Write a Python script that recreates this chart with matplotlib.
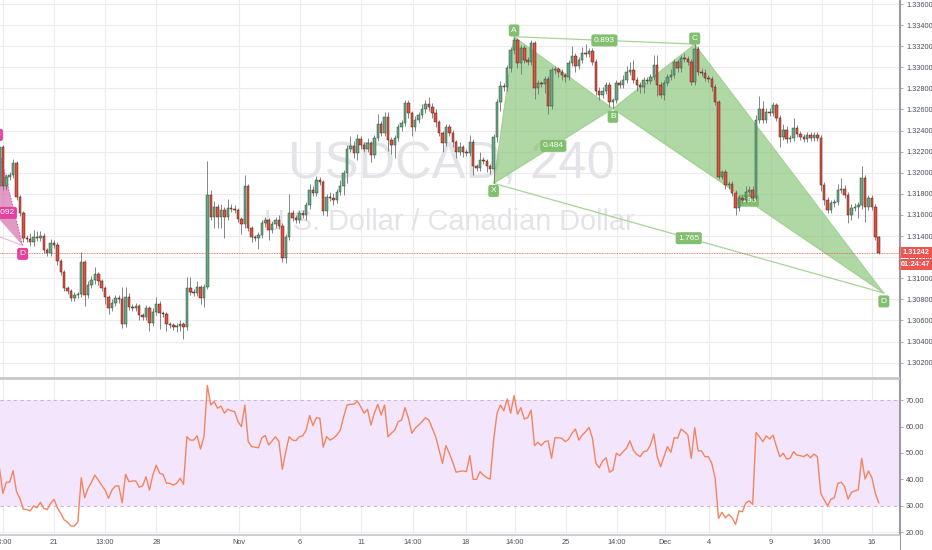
import numpy as np
import matplotlib
matplotlib.use("Agg")
import matplotlib.pyplot as plt
from matplotlib.patches import Polygon, Rectangle
from matplotlib.lines import Line2D
import matplotlib.transforms as mtransforms

plt.rcParams['font.family'] = ['Liberation Sans', 'DejaVu Sans']

# --- 4h candles, USDCAD ---
first_open = 1.3187
close = [
    1.3224, 1.3187, 1.3196, 1.3198, 1.3209, 1.3177, 1.3162, 1.3138, 1.3137, 1.3134,
    1.3139, 1.3138, 1.3140, 1.3127, 1.3124, 1.3133, 1.3132, 1.3116, 1.3106, 1.3091,
    1.3088, 1.3081, 1.3084, 1.3085, 1.3115, 1.3084, 1.3094, 1.3098, 1.3104, 1.3097,
    1.3091, 1.3082, 1.3072, 1.3077, 1.3081, 1.3080, 1.3057, 1.3082, 1.3073, 1.3072,
    1.3074, 1.3065, 1.3063, 1.3072, 1.3058, 1.3068, 1.3076, 1.3067, 1.3066, 1.3057,
    1.3056, 1.3054, 1.3055, 1.3057, 1.3054, 1.3091, 1.3087, 1.3086, 1.3092, 1.3081,
    1.3092, 1.3179, 1.3158, 1.3168, 1.3158, 1.3165, 1.3158, 1.3167, 1.3166, 1.3165,
    1.3156, 1.3151, 1.3187, 1.3148, 1.3139, 1.3138, 1.3141, 1.3152, 1.3155, 1.3146,
    1.3151, 1.3155, 1.3150, 1.3119, 1.3139, 1.3162, 1.3157, 1.3155, 1.3162, 1.3160,
    1.3169, 1.3184, 1.3181, 1.3193, 1.3191, 1.3164, 1.3177, 1.3176, 1.3174, 1.3182,
    1.3187, 1.3200, 1.3223, 1.3225, 1.3219, 1.3232, 1.3226, 1.3223, 1.3228, 1.3217,
    1.3233, 1.3246, 1.3238, 1.3253, 1.3231, 1.3226, 1.3233, 1.3243, 1.3247, 1.3266,
    1.3257, 1.3243, 1.3250, 1.3255, 1.3260, 1.3265, 1.3262, 1.3257, 1.3248, 1.3238,
    1.3228, 1.3243, 1.3238, 1.3229, 1.3220, 1.3224, 1.3220, 1.3219, 1.3229, 1.3206,
    1.3205, 1.3212, 1.3211, 1.3206, 1.3204, 1.3234, 1.3267, 1.3282, 1.3281, 1.3299,
    1.3316, 1.3326, 1.3304, 1.3318, 1.3307, 1.3305, 1.3323, 1.3280, 1.3285, 1.3284,
    1.3289, 1.3263, 1.3297, 1.3298, 1.3296, 1.3293, 1.3291, 1.3304, 1.3311, 1.3301,
    1.3307, 1.3314, 1.3313, 1.3315, 1.3305, 1.3278, 1.3274, 1.3278, 1.3283, 1.3267,
    1.3269, 1.3285, 1.3283, 1.3288, 1.3296, 1.3297, 1.3288, 1.3283, 1.3281, 1.3288,
    1.3287, 1.3291, 1.3302, 1.3283, 1.3274, 1.3285, 1.3291, 1.3293, 1.3305, 1.3299,
    1.3309, 1.3308, 1.3305, 1.3286, 1.3317, 1.3296, 1.3295, 1.3290, 1.3289, 1.3281,
    1.3267, 1.3196, 1.3201, 1.3188, 1.3189, 1.3181, 1.3167, 1.3176, 1.3174, 1.3182,
    1.3184, 1.3176, 1.3250, 1.3260, 1.3250, 1.3258, 1.3257, 1.3264, 1.3252, 1.3234,
    1.3241, 1.3232, 1.3233, 1.3242, 1.3237, 1.3234, 1.3232, 1.3236, 1.3233, 1.3236,
    1.3233, 1.3188, 1.3174, 1.3165, 1.3171, 1.3172, 1.3184, 1.3185, 1.3179, 1.3160,
    1.3167, 1.3168, 1.3169, 1.3195, 1.3168, 1.3176, 1.3168, 1.3139, 1.31242,
]
# wick lengths in pips
wick_up = [
    5, 2, 3, 3, 4, 2, 2, 2, 3, 6,   7, 6, 5, 3, 2, 4, 3, 2, 2, 2,
    2, 2, 3, 2, 10, 2, 3, 4, 7, 2,  2, 2, 2, 3, 3, 3, 12, 10, 4, 3,
    3, 2, 2, 3, 2, 4, 6, 2, 2, 2,   2, 2, 3, 3, 2, 10, 10, 3, 5, 2,
    3, 32, 5, 5, 2, 5, 3, 8, 3, 3,  2, 2, 11, 2, 2, 2, 3, 3, 3, 2,
    3, 3, 5, 2, 3, 18, 3, 3, 3, 3,  3, 5, 3, 4, 3, 2, 3, 5, 5, 3,
    6, 3, 3, 10, 5, 5, 3, 3, 5, 2,  3, 10, 3, 5, 5, 3, 3, 3, 3, 3,
    3, 2, 4, 3, 5, 4, 7, 4, 3, 2,   2, 3, 3, 3, 2, 5, 2, 3, 7, 3,
    2, 8, 3, 2, 2, 3, 3, 5, 3, 3,   3, 3, 2, 3, 3, 3, 3, 2, 3, 2,
    3, 3, 3, 3, 2, 2, 2, 3, 9, 3,   3, 5, 8, 3, 3, 3, 3, 3, 3, 3,
    2, 3, 3, 5, 5, 8, 10, 3, 3, 3,  3, 3, 10, 10, 3, 3, 3, 5, 3, 3,
    3, 5, 3, 3, 5, 3, 3, 3, 3, 3,   3, 2, 2, 3, 3, 3, 3, 3, 3, 5,
    3, 3, 5, 13, 8, 3, 3, 3, 2, 3,  5, 3, 3, 10, 3, 3, 3, 3, 3, 3,
    3, 3, 3, 3, 3, 3, 5, 10, 3, 3,  3, 3, 3, 11, 3, 3, 3, 2, 1,
]
wick_dn = [
    3, 3, 3, 3, 3, 3, 3, 4, 3, 3,   3, 3, 3, 3, 3, 3, 3, 3, 3, 3,
    3, 3, 3, 3, 3, 10, 3, 3, 3, 3,  3, 6, 6, 3, 3, 3, 4, 3, 3, 3,
    3, 5, 3, 3, 8, 3, 3, 15, 3, 7,  3, 3, 5, 5, 12, 3, 3, 3, 3, 5,
    8, 2, 3, 10, 10, 10, 20, 3, 3, 3,  3, 9, 3, 3, 5, 3, 10, 3, 3, 10,
    3, 3, 3, 4, 5, 3, 3, 3, 3, 3,   5, 3, 3, 3, 3, 4, 5, 3, 5, 3,
    3, 8, 10, 3, 5, 7, 3, 3, 3, 7,  3, 3, 3, 3, 10, 8, 12, 3, 3, 3,
    5, 8, 3, 3, 3, 3, 3, 5, 5, 3,   8, 3, 3, 5, 6, 3, 5, 3, 3, 8,
    3, 3, 3, 5, 5, 14, 5, 8, 3, 3,  3, 3, 5, 10, 3, 3, 3, 10, 5, 3,
    8, 7, 3, 3, 5, 5, 5, 3, 3, 5,   3, 3, 3, 3, 3, 4, 5, 3, 3, 5,
    6, 3, 3, 3, 3, 3, 3, 5, 5, 5,   3, 3, 3, 10, 3, 5, 3, 3, 3, 3,
    3, 3, 3, 3, 3, 3, 3, 3, 3, 3,   3, 2, 2, 3, 3, 3, 7, 3, 3, 3,
    3, 3, 2, 3, 3, 3, 3, 3, 3, 10,  3, 4, 3, 3, 3, 3, 3, 3, 3, 3,
    3, 5, 5, 3, 3, 3, 3, 3, 3, 8,   5, 3, 11, 3, 15, 3, 3, 3, 1,
]
rsi = [
    44.2, 34.7, 38.9, 38.9, 43.3, 35.3, 32.8, 28.7, 28.6, 28.0,
    29.9, 29.2, 31.3, 29.0, 28.5, 30.9, 32.4, 29.2, 27.1, 24.6,
    23.7, 22.3, 22.3, 23.9, 40.6, 33.0, 36.6, 38.9, 41.6, 39.7,
    37.8, 35.9, 32.8, 35.9, 37.5, 37.5, 31.1, 41.9, 39.1, 39.4,
    39.4, 37.0, 37.5, 41.0, 35.9, 41.6, 45.4, 42.3, 41.9, 38.5,
    38.5, 37.8, 38.5, 40.4, 38.1, 56.2, 54.9, 54.9, 56.5, 51.5,
    56.2, 75.6, 68.2, 69.5, 67.0, 67.8, 65.1, 66.6, 66.0, 65.7,
    61.9, 60.0, 68.2, 54.3, 52.4, 52.2, 52.0, 55.8, 56.6, 53.0,
    54.6, 56.2, 54.3, 43.8, 50.5, 56.2, 54.9, 54.7, 56.2, 56.5,
    58.7, 64.2, 60.4, 63.4, 63.2, 52.2, 56.2, 54.9, 55.6, 56.8,
    58.7, 63.8, 68.2, 68.5, 68.5, 69.7, 67.6, 65.1, 66.6, 60.6,
    65.1, 68.5, 64.4, 68.2, 56.2, 57.5, 58.7, 61.9, 62.5, 67.2,
    63.2, 57.5, 59.4, 60.6, 61.9, 63.4, 62.5, 59.4, 56.2, 51.1,
    46.1, 52.8, 49.9, 46.5, 42.7, 43.0, 43.2, 42.9, 49.0, 40.0,
    40.0, 42.9, 41.6, 40.6, 40.1, 54.9, 65.1, 68.2, 66.0, 70.5,
    65.1, 71.8, 64.7, 67.2, 62.9, 63.4, 66.3, 52.8, 54.1, 52.8,
    54.3, 54.6, 48.0, 55.8, 55.8, 55.6, 54.3, 55.2, 57.5, 59.1,
    54.9, 56.8, 58.1, 59.7, 55.6, 46.1, 44.4, 47.0, 48.2, 42.7,
    43.5, 49.9, 49.0, 50.5, 51.8, 54.6, 51.1, 49.5, 48.6, 50.5,
    50.8, 53.0, 57.2, 48.6, 44.8, 48.6, 52.4, 50.3, 55.8, 55.6,
    59.1, 58.1, 56.8, 48.0, 59.6, 50.8, 50.8, 48.6, 48.6, 46.1,
    40.4, 25.2, 27.5, 25.4, 26.7, 25.4, 22.9, 28.0, 27.7, 31.1,
    31.8, 30.5, 57.8, 56.2, 54.3, 56.5, 55.3, 56.8, 52.4, 48.6,
    49.9, 47.7, 48.0, 50.5, 49.2, 49.0, 48.6, 49.5, 48.2, 49.6,
    48.6, 34.7, 32.2, 29.9, 32.5, 33.0, 38.5, 38.9, 37.2, 32.5,
    35.1, 35.6, 36.0, 48.0, 40.1, 43.2, 40.6, 34.7, 31.1,
]
assert len(close) == len(wick_up) == len(wick_dn) == len(rsi)

# time axis labels (candle index)
time_pos = [1.0, 16, 31, 46, 70.3, 88.2, 106.1, 121.3, 136.9, 151.3, 166.2,
            181.2, 195.3, 208.2, 226.4, 241.4, 256]
time_lbl = ["13:00", "21", "13:00", "28", "Nov", "6", "11", "14:00", "18", "14:00",
            "25", "14:00", "Dec", "4", "9", "14:00", "16"]

# harmonic pattern points (index, price)
pat_names = ["X", "A", "B", "C", "D"]
pat_x = [145, 151, 180, 204, 259.5]
pat_y = [1.3190, 1.3329, 1.3261, 1.3322, 1.3086]
pat_ratio = {"XB": "0.484", "AC": "0.893", "XD": "1.765", "BD": "3.93"}

# older pattern, cut at the left edge
old_x = [-6.8, -5.0, -0.6, 6.8]          # X, B, C, D
old_y = [1.3148, 1.3174, 1.3228, 1.3131]

last_price = 1.31242
price_ticks = np.arange(1.302, 1.3361, 0.002)
rsi_ticks = [20, 30, 40, 50, 60, 70]

# --- derived ---
c = np.array(close)
o = np.r_[first_open, c[:-1]]
idx = np.arange(len(c))
hi = np.maximum(o, c) + np.array(wick_up) * 1e-4
lo = np.minimum(o, c) - np.array(wick_dn) * 1e-4
up = c >= o
body = np.maximum(np.abs(c - o), 0.00005)

W, H = 932, 550
fig = plt.figure(figsize=(W / 100, H / 100), dpi=100)
ax = fig.add_axes([0, (H - 377) / H, 899 / W, 377 / H])
ax2 = fig.add_axes([0, (H - 534) / H, 899 / W, 156 / H])

XL = (0.156, 263.95)
grid_c = "#ececec"
txt_c = "#4a4f5a"

for a in (ax, ax2):
    a.set_xlim(*XL)
    a.set_facecolor("white")
    for s in ("left", "top", "bottom"):
        a.spines[s].set_visible(False)
    a.spines["right"].set_color("#9a9ca3")
    a.spines["right"].set_linewidth(0.8)
    a.yaxis.tick_right()
    a.tick_params(axis="y", length=3, width=0.6, color="#9a9ca3", pad=2,
                  labelsize=5.3, labelcolor=txt_c)
    a.set_xticks([])
    for p in time_pos:
        a.axvline(p, color=grid_c, lw=0.8, zorder=0)

# --- main pane ---
ax.set_ylim(1.30064, 1.33638)
ax.set_yticks(price_ticks)
ax.set_yticklabels([f"{v:.5f}" for v in price_ticks])
for v in price_ticks:
    ax.axhline(v, color=grid_c, lw=0.8, zorder=0)

ax.text(0.502, 0.562, "USDCAD, 240", transform=ax.transAxes, ha="center", va="center",
        fontsize=36.5, color="#e3e4e8", zorder=0.5)
ax.text(0.50, 0.411, "U.S. Dollar / Canadian Dollar", transform=ax.transAxes,
        ha="center", va="center", fontsize=20.8, color="#e3e4e8", zorder=0.5)

# green XABCD
g_fill = "#7cbf6a"
g_lab = "#82bf6e"
P = dict(zip(pat_names, zip(pat_x, pat_y)))
ax.add_patch(Polygon([P["X"], P["A"], P["B"]], closed=True, fc=g_fill, ec=g_fill,
                     alpha=0.6, lw=0.6, zorder=1))
ax.add_patch(Polygon([P["B"], P["C"], P["D"]], closed=True, fc=g_fill, ec=g_fill,
                     alpha=0.6, lw=0.6, zorder=1))
for a_, b_ in [("X", "B"), ("A", "C"), ("X", "D"), ("B", "D")]:
    ax.plot([P[a_][0], P[b_][0]], [P[a_][1], P[b_][1]], color="#a6d497", lw=0.9, zorder=1.1)

box = dict(boxstyle="round,pad=0.3,rounding_size=0.25", fc=g_lab, ec="none")
for a_, b_ in [("X", "B"), ("A", "C"), ("X", "D"), ("B", "D")]:
    mx = (P[a_][0] + P[b_][0]) / 2
    my = (P[a_][1] + P[b_][1]) / 2
    ax.text(mx, my, pat_ratio[a_ + b_], ha="center", va="center", fontsize=6,
            color="white", bbox=box, zorder=2)
offs = {"X": -5.5, "A": 4.5, "B": -6, "C": 4, "D": -6}
for n in pat_names:
    ax.annotate(n, P[n], xytext=(0, offs[n]), textcoords="offset points", ha="center",
                va="center", fontsize=6, color="white", bbox=box, zorder=2,
                annotation_clip=False)

# pink pattern at the left edge
pk = "#e3439f"
ax.add_patch(Polygon([(old_x[1], old_y[1]), (old_x[2], old_y[2]), (old_x[3], old_y[3])],
                     closed=True, fc="#d978b4", ec="none", alpha=0.75, zorder=1))
ax.plot([old_x[2], old_x[3]], [old_y[2], old_y[3]], color=pk, lw=0.8, ls=":", zorder=1.1)
ax.plot([old_x[0], old_x[3]], [old_y[0], old_y[3]], color="#e9b6dc", lw=0.8, zorder=1.1)
pbox = dict(boxstyle="round,pad=0.3,rounding_size=0.25", fc=pk, ec="none")
ax.text(1.3, 1.3162, "1.092", ha="center", va="center", fontsize=6, color="white",
        bbox=pbox, zorder=2)
ax.annotate("C", (old_x[2], old_y[2]), xytext=(0, 6), textcoords="offset points",
            ha="center", va="center", fontsize=6, color="white", bbox=pbox, zorder=2,
            annotation_clip=False)
ax.annotate("D", (old_x[3], old_y[3]), xytext=(0, -6), textcoords="offset points",
            ha="center", va="center", fontsize=6, color="white", bbox=pbox, zorder=2,
            annotation_clip=False)

# candles
ax.vlines(idx, lo, hi, color="#737375", lw=0.6, zorder=3)
ax.bar(idx[up], body[up], bottom=np.minimum(o, c)[up], width=0.72, color="#6ba583",
       edgecolor="#225437", lw=0.35, zorder=4)
ax.bar(idx[~up], body[~up], bottom=np.minimum(o, c)[~up], width=0.72, color="#d75442",
       edgecolor="#5b1a13", lw=0.35, zorder=4)

ax.axhline(last_price, color="#ef5350", lw=0.6, ls=(0, (1, 1)), zorder=2.5)

# --- RSI pane ---
ax2.set_ylim(19.26, 78.46)
ax2.set_yticks(rsi_ticks)
ax2.set_yticklabels([f"{v:.2f}" for v in rsi_ticks])
for v in (20, 40, 50, 60):
    ax2.axhline(v, color=grid_c, lw=0.8, zorder=0)
ax2.axhspan(30, 70, color="#f3e6fc", zorder=0.5, lw=0)
for v in (30, 70):
    ax2.axhline(v, color="#cdb7c9", lw=0.8, ls=(0, (3, 3)), zorder=1)
ax2.plot(idx, rsi, color="#f4845f", lw=1.0, zorder=3)

tr = mtransforms.blended_transform_factory(ax2.transData, ax2.transAxes)
for p, t in zip(time_pos, time_lbl):
    ax2.text(p, -9 / 156, t, transform=tr, ha="center", va="center", fontsize=5.3,
             color=txt_c, clip_on=False)

# pane separators and price tags
fig.add_artist(Line2D([0, 899 / W], [1 - 377.5 / H] * 2, color="#c5c7cc", lw=2))
fig.add_artist(Line2D([0, 899 / W], [1 - 534.5 / H] * 2, color="#c5c7cc", lw=1.2))
fig.add_artist(Line2D([899.5 / W] * 2, [0, 1], color="#9a9ca3", lw=0.8))
for y0, t in [(247, f"{last_price:.5f}"), (259, "01:24:47")]:
    fig.add_artist(Rectangle((899 / W, 1 - (y0 + 11) / H), 33 / W, 11 / H,
                             transform=fig.transFigure, fc="#ef5350", ec="none"))
    fig.text(915.5 / W, 1 - (y0 + 5.5) / H, t, ha="center", va="center", fontsize=5.3,
             color="white", fontweight="bold")

fig.savefig("out.png", dpi=100, facecolor="white")
